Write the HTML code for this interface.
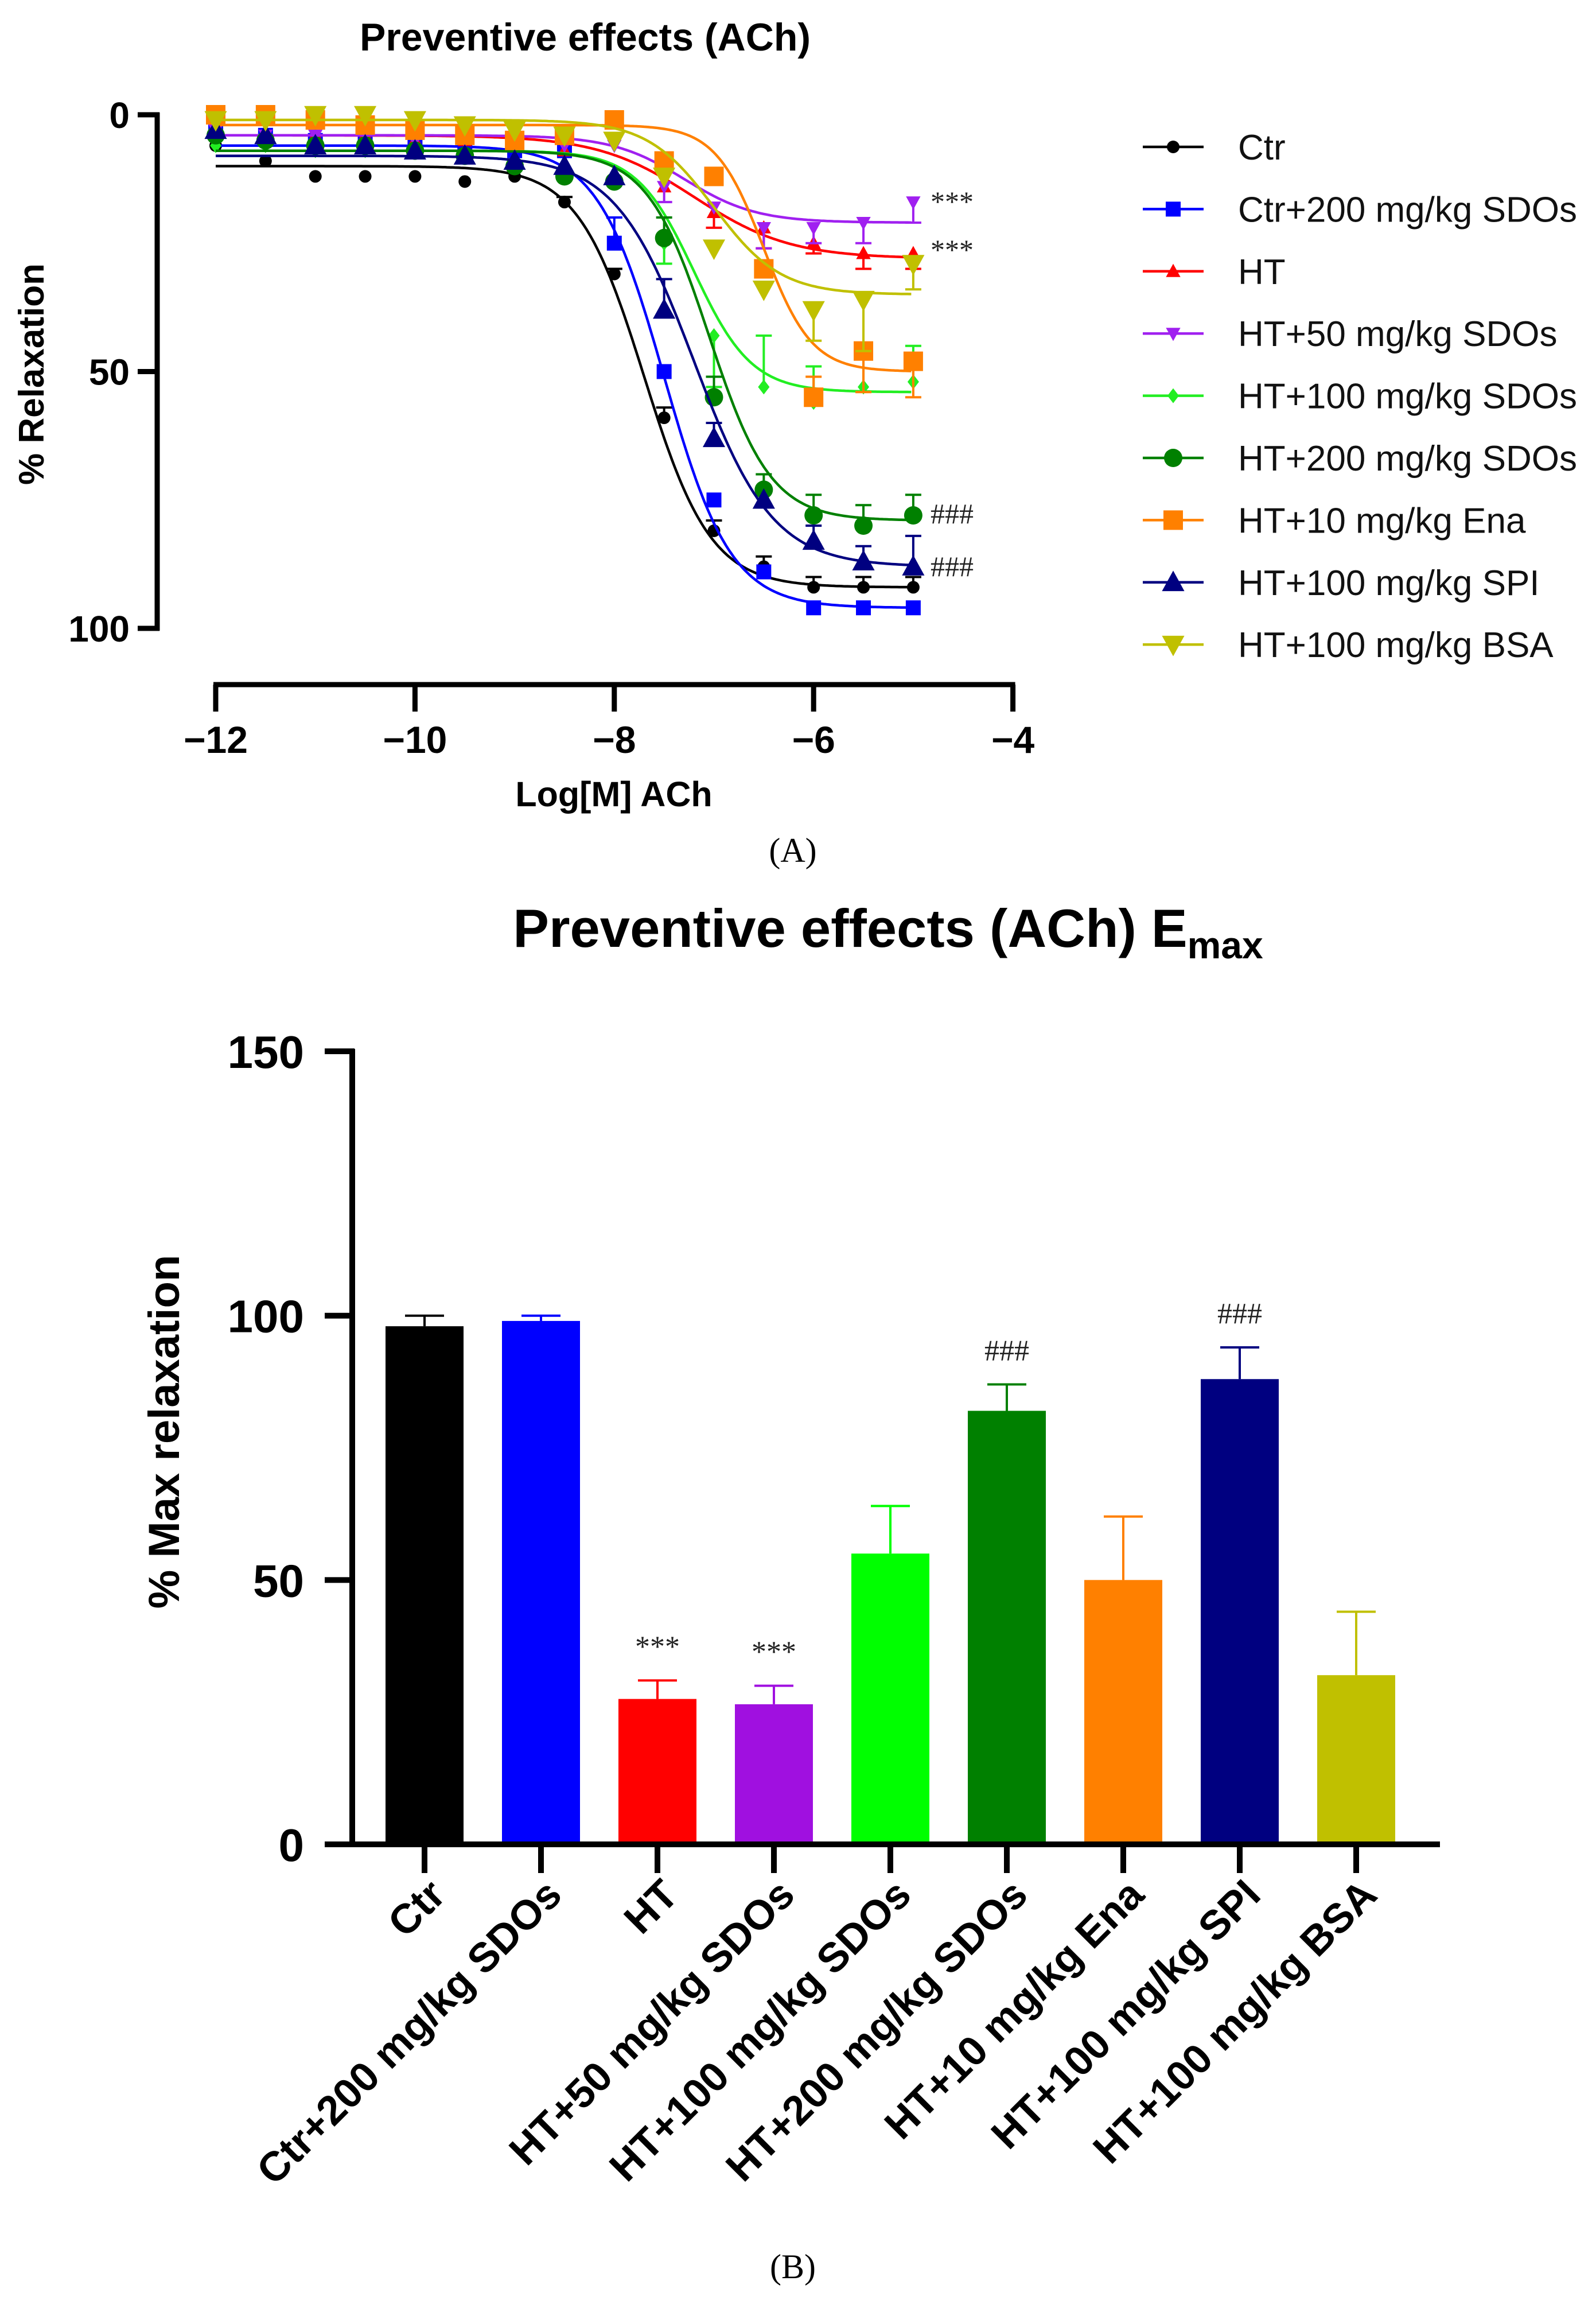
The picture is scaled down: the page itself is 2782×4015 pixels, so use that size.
<!DOCTYPE html>
<html><head><meta charset="utf-8"><style>
html,body{margin:0;padding:0;background:#fff;}
svg{display:block;font-family:"Liberation Sans",sans-serif;}
</style></head><body>
<svg id="fig" width="2782" height="4015" viewBox="0 0 2782 4015" xmlns="http://www.w3.org/2000/svg">
<g id="panelA"></g>
<g id="panelB"></g>
</svg>
<script>
// ---------- Panel A data ----------
const doseX = [-12,-11.5,-11,-10.5,-10,-9.5,-9,-8.5,-8,-7.5,-7,-6.5,-6,-5.5,-5];
const seriesNames = ["Ctr","Ctr+200 mg/kg SDOs","HT","HT+50 mg/kg SDOs","HT+100 mg/kg SDOs","HT+200 mg/kg SDOs","HT+10 mg/kg Ena","HT+100 mg/kg SPI","HT+100 mg/kg BSA"];
const ctrVals   = [6,9,12,12,12,13,12,17,31,59,81,88,92,92,92];
const ctrSdoVals= [3,4,5,5,5,6,7,7,25,50,75,89,96,96,96];
const htVals    = [3,4,4,4,5,5,6,7,12,14,19,22,25,27,27];
const ht50Vals  = [3,4,4,4,5,5,5,6,6,14,18,22,22,21,17];
const ht100Vals = [6,6,7,7,7,8,9,10,12,25,43,53,56,53,52];
const ht200Vals = [4,5,6,6,7,8,10,12,13,24,55,73,78,80,78];
const enaVals   = [0,0,1,2,3,4,5,4,1,9,12,30,55,46,48];
const spiVals   = [3,4,6,6,7,8,9,10,12,38,63,75,83,87,88];
const bsaVals   = [1,1,0,0,1,2,3,4,5,12,26,34,38,36,29];
const errVals = [
 [0,0,0,0,0,0,0,1,1,2,2,2,2,2,2],
 [0,0,0,0,0,0,0,0,5,0,0,0,0,0,0],
 [0,0,0,0,0,0,0,0,0,0,3,4,2,3,3],
 [0,0,0,0,0,0,0,0,0,3,0,4,3,4,4],
 [0,0,0,0,0,0,0,0,0,4,10,10,7,8,7],
 [0,0,0,0,0,0,0,0,0,4,4,3,4,4,4],
 [0,0,0,0,0,0,0,0,0,0,0,0,4,8,7],
 [0,0,0,0,0,0,0,0,0,6,3,0,3,3,6],
 [0,0,0,0,0,0,0,0,0,0,0,0,6,10,5]];
// sigmoid fit parameters: top, bottom, logEC50, hill
const fitTop    = [10,6,4,4,7,7,2,8,1];
const fitBottom = [92,96,28,21,54,79,50,88,35];
const fitEC50   = [-7.7,-7.5,-7.2,-7.3,-7.2,-7.05,-6.5,-7.2,-7.0];
const fitHill   = [1.3,1.3,0.9,1.2,1.5,1.4,1.8,1.1,1.3];
const seriesColors = ["#000000","#0000ff","#ff0000","#a020f0","#22ee22","#008000","#ff8000","#000080","#c0c000"];
const seriesMarkers = ["circle","square","tri","dtri","diamond","circle","square","tri","dtri"];
const markerSize = [11,13,11,11,10,16,17,17,17];
const aYTicks = [0,50,100];
const aXTicks = [-12,-10,-8,-6,-4];
const aXTickLabels = ["\u221212","\u221210","\u22128","\u22126","\u22124"];

// ---------- Panel B data ----------
const barCats = ["Ctr","Ctr+200 mg/kg SDOs","HT","HT+50 mg/kg SDOs","HT+100 mg/kg SDOs","HT+200 mg/kg SDOs","HT+10 mg/kg Ena","HT+100 mg/kg SPI","HT+100 mg/kg BSA"];
const barVals = [98,99,27.5,26.5,55,82,50,88,32];
const barErr  = [2,1,3.5,3.5,9,5,12,6,12];
const barSig  = ["","","***","***","","###","","###",""];
const barColors = ["#000000","#0000ff","#ff0000","#a010e0","#00ff00","#008000","#ff8000","#000080","#c0c000"];
const bYTicks = [0,50,100,150];

const NS="http://www.w3.org/2000/svg";
function mk(parent,tag,attrs,text){const e=document.createElementNS(NS,tag);for(const k in attrs)e.setAttribute(k,attrs[k]);if(text!==undefined)e.textContent=text;parent.appendChild(e);return e;}

// ---------- Panel A ----------
const A=document.getElementById('panelA');
const ax=x=>376+(x+12)*173.7;
const ay=v=>200+v*8.95;
let t=mk(A,'text',{x:1020,y:88,'font-size':68,'font-weight':'bold','text-anchor':'middle'},'Preventive effects (ACh)');


let l=mk(A,'line',{x1:274,y1:ay(0)-4,x2:274,y2:ay(100)+4,stroke:'#000','stroke-width':9});


aYTicks.forEach(v=>{
  mk(A,'line',{x1:240,y1:ay(v),x2:278,y2:ay(v),stroke:'#000','stroke-width':9});
  const tt=mk(A,'text',{x:226,y:ay(v)+23,'font-size':64,'font-weight':'bold','text-anchor':'end'},String(v));
  
  
});
l=mk(A,'line',{x1:ax(-12)-4,y1:1193,x2:ax(-4)+4,y2:1193,stroke:'#000','stroke-width':9});


aXTicks.forEach((v,i)=>{
  mk(A,'line',{x1:ax(v),y1:1193,x2:ax(v),y2:1240,stroke:'#000','stroke-width':9});
  const tt=mk(A,'text',{x:ax(v),y:1312,'font-size':66,'font-weight':'bold','text-anchor':'middle'},aXTickLabels[i]);
  
  
});
t=mk(A,'text',{x:1070,y:1405,'font-size':61,'font-weight':'bold','text-anchor':'middle'},'Log[M] ACh');


t=mk(A,'text',{x:0,y:0,'font-size':62,'font-weight':'bold','text-anchor':'middle',transform:'translate(76,652) rotate(-90)'},'% Relaxation');



function drawMarker(g,type,cx,cy,s,c){
  let e;
  if(type==='circle') e=mk(g,'circle',{cx:cx,cy:cy,r:s,fill:c});
  else if(type==='square') e=mk(g,'rect',{x:cx-s,y:cy-s,width:2*s,height:2*s,fill:c});
  else if(type==='tri') e=mk(g,'polygon',{points:`${cx},${cy-s*1.2} ${cx-s*1.15},${cy+s*0.9} ${cx+s*1.15},${cy+s*0.9}`,fill:c});
  else if(type==='dtri') e=mk(g,'polygon',{points:`${cx},${cy+s*1.2} ${cx-s*1.15},${cy-s*0.9} ${cx+s*1.15},${cy-s*0.9}`,fill:c});
  else e=mk(g,'polygon',{points:`${cx},${cy-s*1.3} ${cx+s},${cy} ${cx},${cy+s*1.3} ${cx-s},${cy}`,fill:c});
  return e;
}
const allVals=[ctrVals,ctrSdoVals,htVals,ht50Vals,ht100Vals,ht200Vals,enaVals,spiVals,bsaVals];
allVals.forEach((vals,si)=>{
  const g=mk(A,'g',{});
  
  
  const c=seriesColors[si];
  let d='';
  for(let x=-12;x<=-5.0001;x+=0.02){
    const v=fitTop[si]+(fitBottom[si]-fitTop[si])/(1+Math.pow(10,(fitEC50[si]-x)*fitHill[si]));
    d+=(d?'L':'M')+ax(x).toFixed(1)+','+ay(v).toFixed(1);
  }
  const p=mk(g,'path',{d:d,fill:'none',stroke:c,'stroke-width':4.5});
  
  
  vals.forEach((v,i)=>{
    const e=errVals[si][i];
    if(e>0){
      const dir = v>50||si===1||si===0||si===5||si===7 ? -1:1;
      mk(g,'line',{x1:ax(doseX[i]),y1:ay(v),x2:ax(doseX[i]),y2:ay(v+dir*e),stroke:c,'stroke-width':4});
      mk(g,'line',{x1:ax(doseX[i])-14,y1:ay(v+dir*e),x2:ax(doseX[i])+14,y2:ay(v+dir*e),stroke:c,'stroke-width':4});
    }
    const m=drawMarker(g,seriesMarkers[si],ax(doseX[i]),ay(v),markerSize[si],c);
    
    
  });
});
[["***",1622,368],["***",1622,452],["###",1622,912],["###",1622,1004]].forEach(s=>{
  const tt=mk(A,'text',{x:s[1],y:s[2],'font-size':50,'font-family':'Liberation Serif, serif','fill':'#222'},s[0]);
  
  
});
// legend
seriesNames.forEach((n,i)=>{
  const y=256+i*108.4;
  const g=mk(A,'g',{});
  
  
  mk(g,'line',{x1:1992,y1:y,x2:2098,y2:y,stroke:seriesColors[i],'stroke-width':4.5});
  drawMarker(g,seriesMarkers[i],2045,y,markerSize[i],seriesColors[i]);
  mk(g,'text',{x:2158,y:y+22,'font-size':62,fill:'#111'},n);
});
t=mk(A,'text',{x:1382,y:1502,'font-size':60,'font-family':'Liberation Serif, serif','text-anchor':'middle'},'(A)');



// ---------- Panel B ----------
const B=document.getElementById('panelB');
const by=v=>3214-v*9.213;
const bx=i=>740+i*203;
t=mk(B,'text',{x:1548,y:1650,'font-size':94,'font-weight':'bold','text-anchor':'middle'},'Preventive effects (ACh) E');


mk(t,'tspan',{'font-size':66,dy:20},'max');
l=mk(B,'line',{x1:614,y1:by(150)-4,x2:614,y2:by(0)+4,stroke:'#000','stroke-width':10});


bYTicks.forEach(v=>{
  mk(B,'line',{x1:566,y1:by(v),x2:618,y2:by(v),stroke:'#000','stroke-width':10});
  const tt=mk(B,'text',{x:530,y:by(v)+29,'font-size':80,'font-weight':'bold','text-anchor':'end'},String(v));
  
  
});
t=mk(B,'text',{x:0,y:0,'font-size':76,'font-weight':'bold','text-anchor':'middle',transform:'translate(312,2495) rotate(-90)'},'% Max relaxation');


barVals.forEach((v,i)=>{
  const c=barColors[i];
  const eb=mk(B,'g',{});
  
  
  mk(eb,'line',{x1:bx(i),y1:by(v),x2:bx(i),y2:by(v+barErr[i]),stroke:c,'stroke-width':4});
  mk(eb,'line',{x1:bx(i)-34,y1:by(v+barErr[i]),x2:bx(i)+34,y2:by(v+barErr[i]),stroke:c,'stroke-width':4});
  const r=mk(B,'rect',{x:bx(i)-68,y:by(v),width:136,height:by(0)-by(v),fill:c});
  
  
  if(barSig[i]){
    const s=mk(B,'text',{x:bx(i),y:by(v+barErr[i])-42,'font-size':52,'font-family':'Liberation Serif, serif','text-anchor':'middle',fill:'#222'},barSig[i]);
    
    
  }
  mk(B,'line',{x1:bx(i),y1:by(0),x2:bx(i),y2:by(0)+50,stroke:'#000','stroke-width':10});
  const lab=mk(B,'text',{x:0,y:0,'font-size':72,'font-weight':'bold','text-anchor':'end',transform:`translate(${bx(i)+40},${by(0)+92}) rotate(-45)`},barCats[i]);
  
  
});
l=mk(B,'line',{x1:609,y1:by(0),x2:2510,y2:by(0),stroke:'#000','stroke-width':10});


t=mk(B,'text',{x:1382,y:3970,'font-size':60,'font-family':'Liberation Serif, serif','text-anchor':'middle'},'(B)');


</script>
</body></html>
